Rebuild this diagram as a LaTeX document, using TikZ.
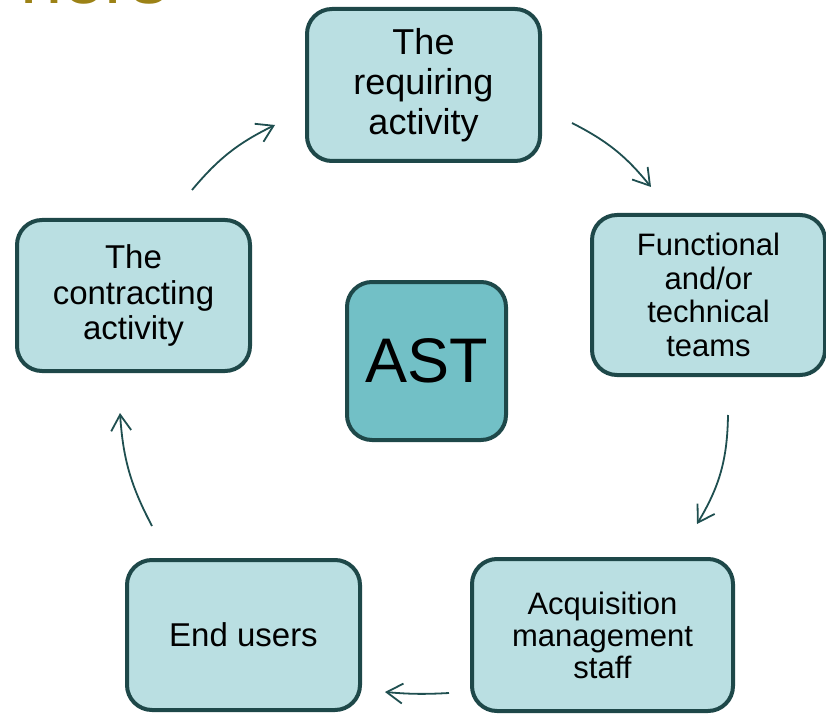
\documentclass[tikz,border=0pt]{standalone}
\usepackage{fontspec}
\setmainfont{Liberation Sans}
\usetikzlibrary{arrows.meta}
\definecolor{boxfill}{HTML}{BADFE2}
\definecolor{boxline}{HTML}{1E4849}
\definecolor{astfill}{HTML}{72C0C6}
\definecolor{arrowc}{HTML}{1F4F50}
\definecolor{titlec}{HTML}{9C8216}
\begin{document}
\begin{tikzpicture}[x=1pt,y=1pt,
  box/.style={draw=boxline, line width=4pt, fill=boxfill, rounded corners=25pt,
    align=center, text=black, inner sep=0pt},
  arr/.style={draw=arrowc, line width=1.8pt,
    -{Straight Barb[length=16pt,width=20pt,line width=1.8pt]}}]
\useasboundingbox (0,0) rectangle (826,716);
\clip (0,0) rectangle (826,716);
% cut-off title
\node[anchor=base west, text=titlec, font=\fontsize{76}{76}\selectfont, inner sep=0pt] (title) at (20,712) {ners};
% boxes
\node[box, minimum width=233pt, minimum height=152pt, font=\fontsize{36}{40}\selectfont] (req) at (423.5,631) {The\\requiring\\activity};
\node[box, minimum width=233pt, minimum height=160pt, font=\fontsize{31}{33.5}\selectfont] (fun) at (708.5,421) {Functional\\and/or\\technical\\teams};
\node[box, minimum width=261pt, minimum height=152pt, font=\fontsize{31}{32}\selectfont] (acq) at (602.5,81) {Acquisition\\management\\staff};
\node[box, minimum width=233pt, minimum height=150pt, font=\fontsize{33}{36}\selectfont] (end) at (243.5,81) {End users};
\node[box, minimum width=233pt, minimum height=151pt, font=\fontsize{33}{35.5}\selectfont] (con) at (133.5,420.5) {The\\contracting\\activity};
\node[box, fill=astfill, minimum width=159pt, minimum height=158pt, font=\fontsize{63}{63}\selectfont] (ast) at (426.5,355) {AST};
% arrow end points
\coordinate (a1s) at (192,526); \coordinate (a1e) at (275,591);
\coordinate (a2s) at (572,593); \coordinate (a2e) at (651,529);
\coordinate (a3s) at (728,301); \coordinate (a3e) at (697,192);
\coordinate (a4s) at (449,23);  \coordinate (a4e) at (385,24);
\coordinate (a5s) at (152,190); \coordinate (a5e) at (120,303);
\draw[arr] (a1s) to[bend left=12] (a1e);
\draw[arr] (a2s) to[bend left=12] (a2e);
\draw[arr] (a3s) to[bend left=15] (a3e);
\draw[arr] (a4s) to[bend left=4] (a4e);
\draw[arr] (a5s) to[bend left=12] (a5e);
\end{tikzpicture}
\end{document}
